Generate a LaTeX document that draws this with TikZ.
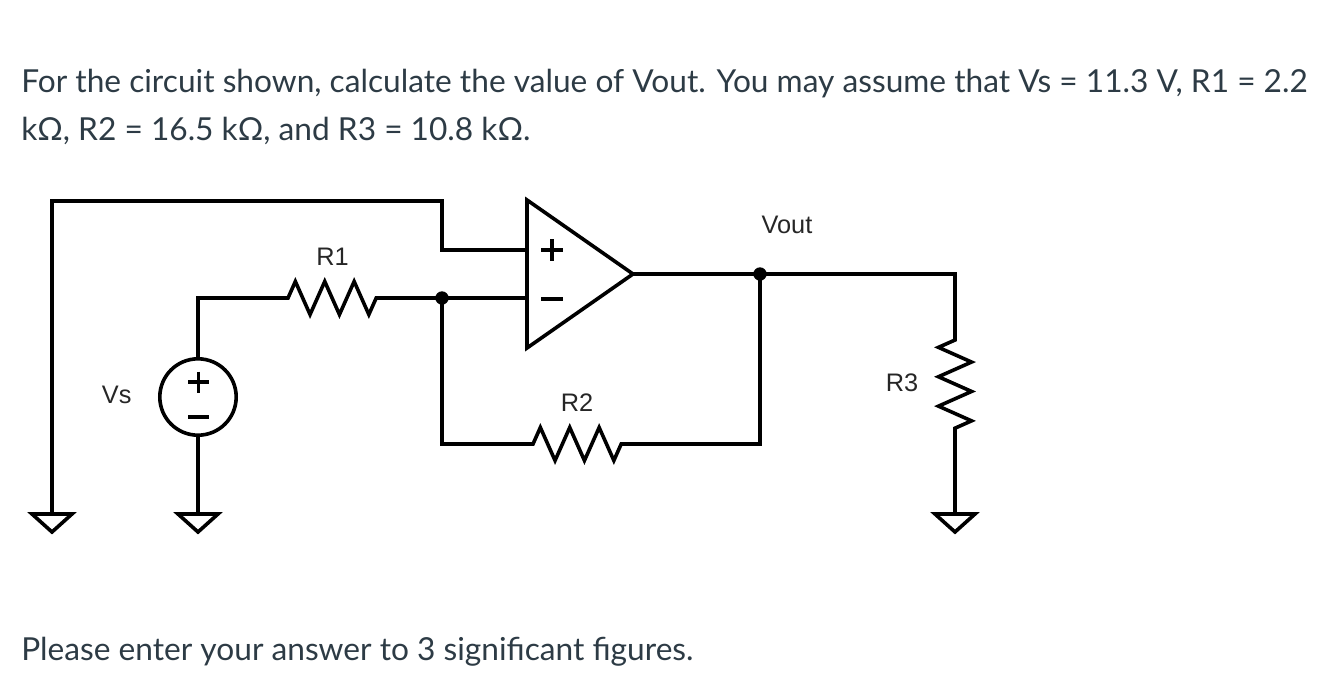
\documentclass[tikz,border=0pt]{standalone}
\usepackage{fontspec}
\setmainfont{Lato}
\newfontfamily\lblfont{Liberation Sans}
\usetikzlibrary{positioning,decorations.pathmorphing}
\definecolor{qcolor}{HTML}{2D3B45}
\definecolor{lcolor}{HTML}{262626}
\tikzset{
  wire/.style={line width=2.7pt},
  zz/.style={decoration={zigzag, segment length=22.05pt, amplitude=12.4pt}},
  qtext/.style={anchor=base west, inner sep=0pt, text=qcolor, font=\fontsize{23.75}{28}\selectfont},
  lbl/.style={anchor=base, inner sep=0pt, text=lcolor, font=\lblfont\fontsize{19}{22}\selectfont},
  dot/.style={circle, fill, inner sep=0pt, minimum size=10pt},
}
\begin{document}
\begin{tikzpicture}[x=0.75pt,y=-0.75pt]
  \useasboundingbox (0,0) rectangle (1332,686);
  % question text
  \node[qtext] (line1) at (21,92.7) {For the circuit shown, calculate the value of Vout. You may assume that Vs = 11.3 V, R1 = 2.2};
  \node[qtext] (line2) at (21,140) {kΩ, R2 = 16.5 kΩ, and R3 = 10.8 kΩ.};
  \node[qtext] (note) at (21,660.7) {Please enter your answer to 3 significant figures.};

  % grounds
  \coordinate (gl) at (52,514);
  \coordinate (gs) at (198,514);
  \coordinate (gr) at (955,514);
  \foreach \g in {gl,gs,gr}
    \draw[wire] (\g) +(-20,0) -- +(20,0) -- +(0,18) -- cycle;

  % op amp
  \coordinate (oa1) at (527,200);
  \coordinate (oa2) at (527,348);
  \coordinate (oaout) at (633,274);
  \coordinate (oap) at (527,250);
  \coordinate (oan) at (527,298);
  \draw[wire] (oa1) -- (oaout) -- (oa2) -- cycle;
  \draw[wire] (541,250) -- (563,250) (552,239) -- (552,261); % +
  \draw[wire] (541,299) -- (563,299); % -

  % source
  \node[draw, wire, circle, minimum size=57.3pt, inner sep=0pt] (vs) at (198,397) {};
  \draw[wire] (188,382) -- (209,382) (198.5,371.5) -- (198.5,392.5); % +
  \draw[wire] (188,417) -- (209,417); % -

  % wiring
  \coordinate (tl) at (52,201);
  \coordinate (tr) at (442,201);
  \coordinate (j1) at (442,298);
  \coordinate (j2) at (760,274);
  \coordinate (r1a) at (288,298);
  \coordinate (r1b) at (376.5,298);
  \coordinate (r2a) at (533,444);
  \coordinate (r2b) at (621.5,444);
  \coordinate (r3a) at (955,340);
  \coordinate (r3b) at (955,428.5);
  \draw[wire] (gl) -- (tl) -- (tr) |- (oap);
  \draw[wire] (vs.north) |- (r1a) decorate[zz] {-- (r1b)} -- (j1) -- (oan);
  \draw[wire] (j1) |- (r2a) decorate[zz] {-- (r2b)} -| (j2);
  \draw[wire] (oaout) -- (j2) -| (r3a) decorate[zz, decoration={mirror}] {-- (r3b)} -- (gr);
  \draw[wire] (vs.south) -- (gs);
  \node[dot] (d1) at (j1) {};
  \node[dot] (d2) at (j2) {};

  % labels
  \node[lbl] (lr1) at (332.5,265) {R1};
  \node[lbl] (lvs) at (116.7,403) {Vs};
  \node[lbl] (lr2) at (577,411.7) {R2};
  \node[lbl] (lr3) at (902,391.7) {R3};
  \node[lbl] (lvout) at (787,233) {Vout};
\end{tikzpicture}
\end{document}
